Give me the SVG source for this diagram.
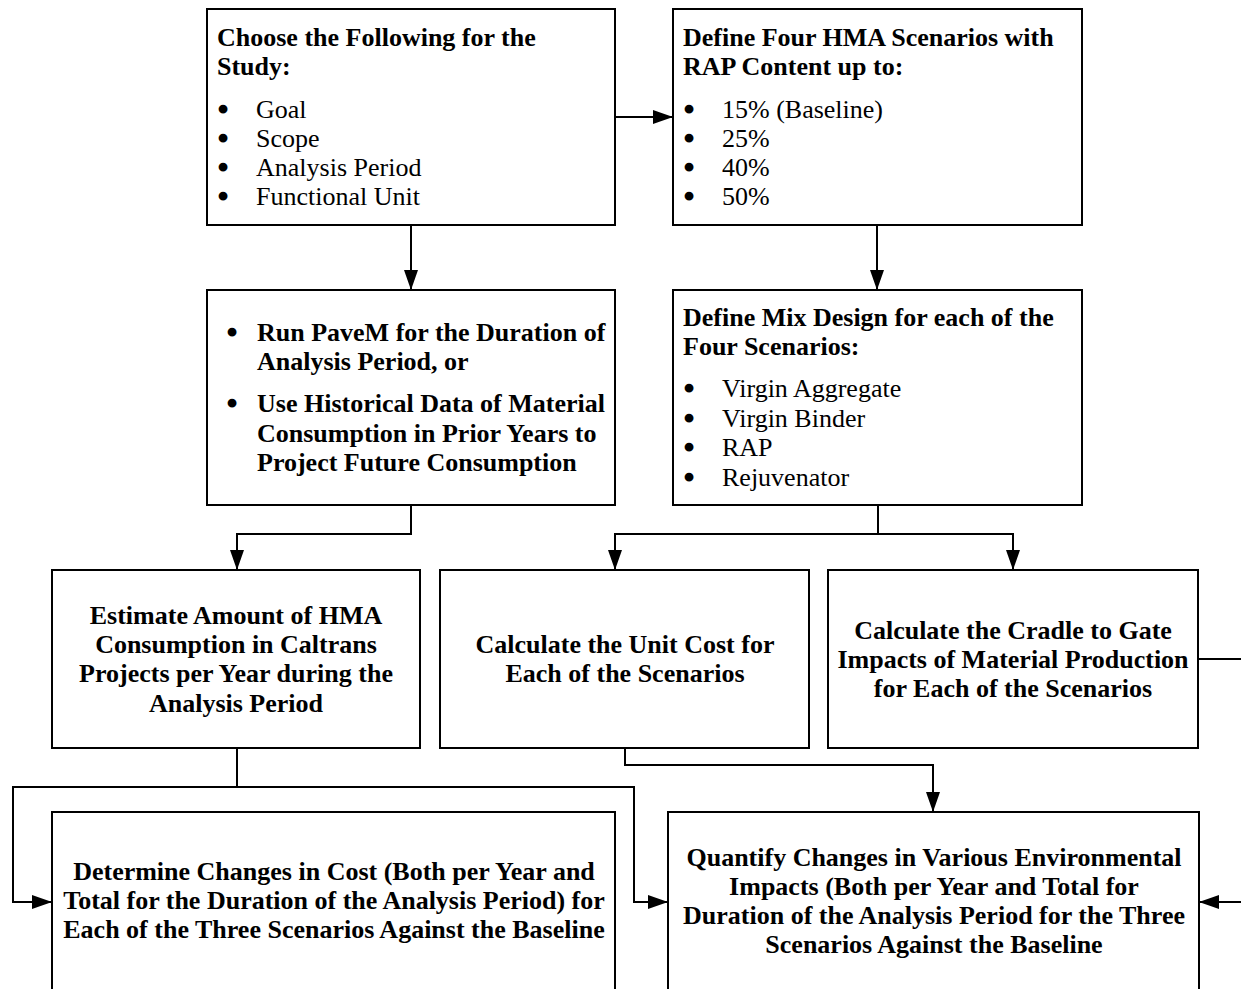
<svg xmlns="http://www.w3.org/2000/svg" width="1241" height="989" viewBox="0 0 1241 989">
  <style>
    .box { fill: #ffffff; stroke: #000000; stroke-width: 2; }
    .wire { fill: none; stroke: #000000; stroke-width: 2; marker-end: url(#ah); }
    text { font-family: "Liberation Serif", "Times New Roman", serif; font-size: 26px; fill: #000000; }
    .b { font-weight: bold; }
    .c { text-anchor: middle; }
    .dot { font-weight: normal; stroke: #000000; stroke-width: 2.6; }
  </style>
  <defs>
    <marker id="ah" markerWidth="20" markerHeight="14" refX="20" refY="7" orient="auto" markerUnits="userSpaceOnUse">
      <path d="M0,0 L20,7 L0,14 Z" fill="#000000"/>
    </marker>
  </defs>
  <rect width="1241" height="989" fill="#ffffff"/>

  <!-- connectors -->
  <g id="connectors">
    <path class="wire" d="M615,117 H673"/>
    <path class="wire" d="M411,225 V290"/>
    <path class="wire" d="M877,225 V290"/>
    <path class="wire" d="M411,505 V534 H237 V570"/>
    <path class="wire" d="M878,505 V534 H615 V570"/>
    <path class="wire" d="M878,534 H1013 V570"/>
    <path class="wire" d="M1198,659 H1260 V902 H1199"/>
    <path class="wire" d="M237,748 V787 H13 V902 H52"/>
    <path class="wire" d="M237,787 H634 V902 H668"/>
    <path class="wire" d="M625,748 V765 H933 V812"/>
  </g>

  <!-- study definition -->
  <g id="choose">
    <rect class="box" x="207" y="9" width="408" height="216"/>
    <text class="b" x="217" y="46">Choose the Following for the</text>
    <text class="b" x="217" y="75">Study:</text>
    <text class="dot" x="218.5" y="118">•</text><text x="256" y="118">Goal</text>
    <text class="dot" x="218.5" y="147">•</text><text x="256" y="147">Scope</text>
    <text class="dot" x="218.5" y="176">•</text><text x="256" y="176">Analysis Period</text>
    <text class="dot" x="218.5" y="205">•</text><text x="256" y="205">Functional Unit</text>
  </g>

  <g id="scenarios">
    <rect class="box" x="673" y="9" width="409" height="216"/>
    <text class="b" x="683" y="46">Define Four HMA Scenarios with</text>
    <text class="b" x="683" y="75">RAP Content up to:</text>
    <text class="dot" x="684.5" y="118">•</text><text x="722" y="118">15% (Baseline)</text>
    <text class="dot" x="684.5" y="147">•</text><text x="722" y="147">25%</text>
    <text class="dot" x="684.5" y="176">•</text><text x="722" y="176">40%</text>
    <text class="dot" x="684.5" y="205">•</text><text x="722" y="205">50%</text>
  </g>

  <g id="pavem">
    <rect class="box" x="207" y="290" width="408" height="215"/>
    <text class="dot" x="227.5" y="341">•</text><text class="b" x="257" y="341">Run PaveM for the Duration of</text>
    <text class="b" x="257" y="370">Analysis Period, or</text>
    <text class="dot" x="227.5" y="412">•</text><text class="b" x="257" y="412">Use Historical Data of Material</text>
    <text class="b" x="257" y="442">Consumption in Prior Years to</text>
    <text class="b" x="257" y="471">Project Future Consumption</text>
  </g>

  <g id="mix-design">
    <rect class="box" x="673" y="290" width="409" height="215"/>
    <text class="b" x="683" y="326">Define Mix Design for each of the</text>
    <text class="b" x="683" y="355">Four Scenarios:</text>
    <text class="dot" x="684.5" y="397">•</text><text x="722" y="397">Virgin Aggregate</text>
    <text class="dot" x="684.5" y="427">•</text><text x="722" y="427">Virgin Binder</text>
    <text class="dot" x="684.5" y="456">•</text><text x="722" y="456">RAP</text>
    <text class="dot" x="684.5" y="486">•</text><text x="722" y="486">Rejuvenator</text>
  </g>

  <g id="estimate">
    <rect class="box" x="52" y="570" width="368" height="178"/>
    <text class="b c" x="236" y="624">Estimate Amount of HMA</text>
    <text class="b c" x="236" y="653">Consumption in Caltrans</text>
    <text class="b c" x="236" y="682">Projects per Year during the</text>
    <text class="b c" x="236" y="712">Analysis Period</text>
  </g>

  <g id="unit-cost">
    <rect class="box" x="440" y="570" width="369" height="178"/>
    <text class="b c" x="625" y="653">Calculate the Unit Cost for</text>
    <text class="b c" x="625" y="682">Each of the Scenarios</text>
  </g>

  <g id="cradle-to-gate">
    <rect class="box" x="828" y="570" width="370" height="178"/>
    <text class="b c" x="1013" y="639">Calculate the Cradle to Gate</text>
    <text class="b c" x="1013" y="668">Impacts of Material Production</text>
    <text class="b c" x="1013" y="697">for Each of the Scenarios</text>
  </g>

  <g id="cost-changes">
    <rect class="box" x="52" y="812" width="563" height="200"/>
    <text class="b c" x="334" y="880">Determine Changes in Cost (Both per Year and</text>
    <text class="b c" x="334" y="909">Total for the Duration of the Analysis Period) for</text>
    <text class="b c" x="334" y="938">Each of the Three Scenarios Against the Baseline</text>
  </g>

  <g id="impact-changes">
    <rect class="box" x="668" y="812" width="531" height="200"/>
    <text class="b c" x="934" y="866">Quantify Changes in Various Environmental</text>
    <text class="b c" x="934" y="895">Impacts (Both per Year and Total for</text>
    <text class="b c" x="934" y="924">Duration of the Analysis Period for the Three</text>
    <text class="b c" x="934" y="953">Scenarios Against the Baseline</text>
  </g>
</svg>
